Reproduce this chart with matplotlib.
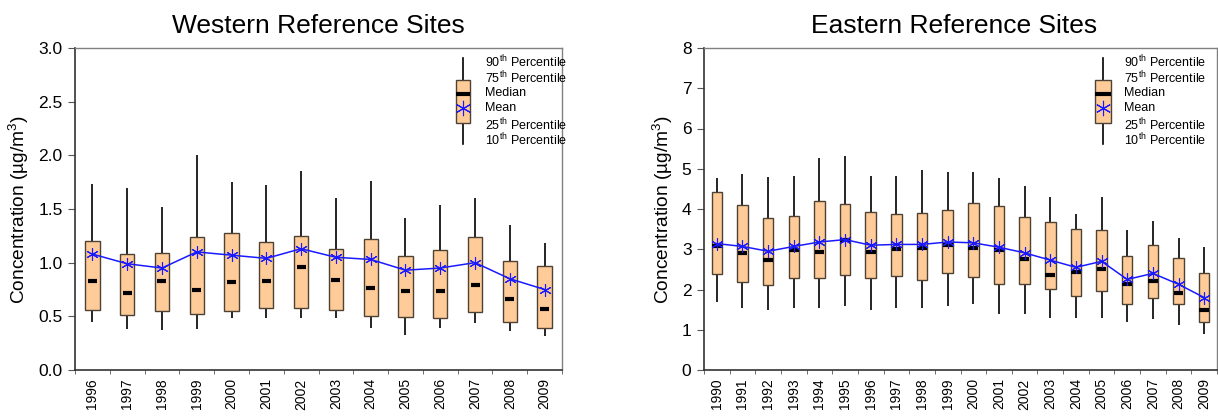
import matplotlib
matplotlib.use("Agg")
import matplotlib.pyplot as plt
import numpy as np

plt.rcParams['font.family'] = ['Liberation Sans', 'DejaVu Sans']
plt.rcParams['mathtext.fontset'] = 'custom'
plt.rcParams['mathtext.rm'] = 'Liberation Sans'
plt.rcParams['mathtext.it'] = 'Liberation Sans:italic'

# Western reference sites
west_years = [str(y) for y in range(1996, 2010)]
west_p90 = [1.73, 1.70, 1.52, 2.00, 1.75, 1.72, 1.85, 1.60, 1.76, 1.42, 1.54, 1.60, 1.35, 1.18]
west_p75 = [1.20, 1.08, 1.09, 1.24, 1.28, 1.19, 1.25, 1.13, 1.22, 1.06, 1.12, 1.24, 1.02, 0.97]
west_median = [0.83, 0.72, 0.83, 0.75, 0.82, 0.83, 0.96, 0.84, 0.76, 0.74, 0.74, 0.79, 0.66, 0.57]
west_mean = [1.08, 0.99, 0.95, 1.10, 1.07, 1.04, 1.13, 1.05, 1.03, 0.93, 0.95, 1.00, 0.85, 0.75]
west_p25 = [0.56, 0.51, 0.55, 0.52, 0.55, 0.58, 0.58, 0.56, 0.50, 0.49, 0.48, 0.54, 0.45, 0.39]
west_p10 = [0.45, 0.38, 0.37, 0.38, 0.48, 0.48, 0.48, 0.48, 0.39, 0.33, 0.39, 0.44, 0.36, 0.32]

# Eastern reference sites
east_years = [str(y) for y in range(1990, 2010)]
east_p90 = [4.77, 4.86, 4.79, 4.83, 5.26, 5.31, 4.81, 4.83, 4.96, 4.91,
            4.91, 4.78, 4.58, 4.29, 3.88, 4.29, 3.48, 3.71, 3.28, 3.06]
east_p75 = [4.42, 4.10, 3.78, 3.82, 4.20, 4.12, 3.93, 3.87, 3.90, 3.98,
            4.14, 4.07, 3.80, 3.67, 3.50, 3.48, 2.84, 3.10, 2.78, 2.40]
east_median = [3.07, 2.90, 2.73, 2.97, 2.93, 3.24, 2.93, 3.00, 3.04, 3.11,
               3.03, 2.98, 2.76, 2.36, 2.43, 2.51, 2.13, 2.20, 1.92, 1.50]
east_mean = [3.14, 3.07, 2.95, 3.07, 3.18, 3.24, 3.10, 3.12, 3.12, 3.18,
             3.16, 3.05, 2.91, 2.73, 2.55, 2.70, 2.25, 2.40, 2.13, 1.80]
east_p25 = [2.38, 2.18, 2.10, 2.28, 2.28, 2.35, 2.28, 2.33, 2.23, 2.40,
            2.30, 2.14, 2.14, 2.02, 1.83, 1.97, 1.65, 1.78, 1.63, 1.20]
east_p10 = [1.69, 1.53, 1.48, 1.54, 1.54, 1.59, 1.49, 1.54, 1.54, 1.59,
            1.64, 1.38, 1.39, 1.29, 1.29, 1.29, 1.19, 1.27, 1.12, 0.89]

legend_labels = ["90$^{\\mathrm{th}}$ Percentile", "75$^{\\mathrm{th}}$ Percentile", "Median",
                 "Mean", "25$^{\\mathrm{th}}$ Percentile", "10$^{\\mathrm{th}}$ Percentile"]

BOX_FACE = '#ffcc99'
BOX_EDGE = '#4d4233'
MEAN_COLOR = '#1a1aff'
ASTERISK = (6, 2, 0)


def draw_panel(ax, years, p10, p25, med, mean, p75, p90, ylim, yticks, fmt, title,
               med_half, leg_x, leg_tx, title_x=0.5):
    x = np.arange(len(years))
    ax.vlines(x, p10, p90, color='black', lw=1.2, zorder=1)
    ax.bar(x, np.array(p75) - np.array(p25), bottom=p25, width=0.41,
           color=BOX_FACE, edgecolor=BOX_EDGE, lw=1.0, zorder=2)
    ax.hlines(med, x - med_half, x + med_half, color='black', lw=3, zorder=3,
              capstyle='butt')
    ax.plot(x, mean, color=MEAN_COLOR, lw=1.1, marker=ASTERISK, ms=9,
            mec=MEAN_COLOR, mew=0.8, zorder=4)

    ax.set_xlim(-0.5, len(years) - 0.5)
    ax.set_ylim(*ylim)
    ax.set_yticks(yticks)
    ax.set_yticklabels([fmt.format(v) for v in yticks], fontsize=12.5)
    ax.set_xticks(x)
    ax.set_xticklabels(years, rotation=90, fontsize=10)
    ax.set_xticks(np.arange(len(years) + 1) - 0.5, minor=True)
    ax.tick_params(axis='x', which='major', length=0, pad=6)
    ax.tick_params(axis='x', which='minor', length=3, direction='out', color='#555555')
    ax.tick_params(axis='y', length=5, direction='out', color='#555555', pad=4)

    for side in ('top', 'right'):
        ax.spines[side].set_color('#808080')
        ax.spines[side].set_linewidth(1.0)
    for side in ('left', 'bottom'):
        ax.spines[side].set_color('#333333')
        ax.spines[side].set_linewidth(1.2)

    ax.set_ylabel("Concentration (\u00b5g/m$^{\\mathrm{3}}$)", fontsize=13.8, labelpad=5)
    ax.set_title(title, fontsize=19, pad=11, x=title_x)

    # legend key drawn in axes coordinates
    tr = ax.transAxes
    bw = 0.015
    ax.plot([leg_x, leg_x], [0.702, 0.969], color='black', lw=1.2, transform=tr, zorder=5)
    ax.add_patch(plt.Rectangle((leg_x - bw, 0.767), 2 * bw, 0.134, transform=tr,
                               facecolor=BOX_FACE, edgecolor=BOX_EDGE, lw=1.0, zorder=6))
    ax.plot([leg_x - bw, leg_x + bw], [0.857, 0.857], color='black', lw=3,
            solid_capstyle='butt', transform=tr, zorder=7)
    ax.plot([leg_x], [0.814], marker=ASTERISK, ms=11, color=MEAN_COLOR, mew=0.8,
            transform=tr, zorder=7)
    for lab, ty in zip(legend_labels, [0.957, 0.907, 0.860, 0.814, 0.761, 0.714]):
        ax.text(leg_tx, ty, lab, transform=tr, fontsize=9, va='center', ha='left')


fig = plt.figure(figsize=(12.18, 4.17), dpi=100)
ax1 = fig.add_axes([75 / 1218, 1 - 370 / 417, 487 / 1218, 322 / 417])
ax2 = fig.add_axes([704 / 1218, 1 - 370 / 417, 513 / 1218, 322 / 417])

draw_panel(ax1, west_years, west_p10, west_p25, west_median, west_mean, west_p75, west_p90,
           (0, 3.0), [0, 0.5, 1.0, 1.5, 2.0, 2.5, 3.0], "{:.1f}", "Western Reference Sites",
           0.13, 0.797, 0.842)
draw_panel(ax2, east_years, east_p10, east_p25, east_median, east_mean, east_p75, east_p90,
           (0, 8), list(range(0, 9)), "{:d}", "Eastern Reference Sites",
           0.19, 0.778, 0.819, title_x=0.487)

fig.savefig("out.png", dpi=100)
